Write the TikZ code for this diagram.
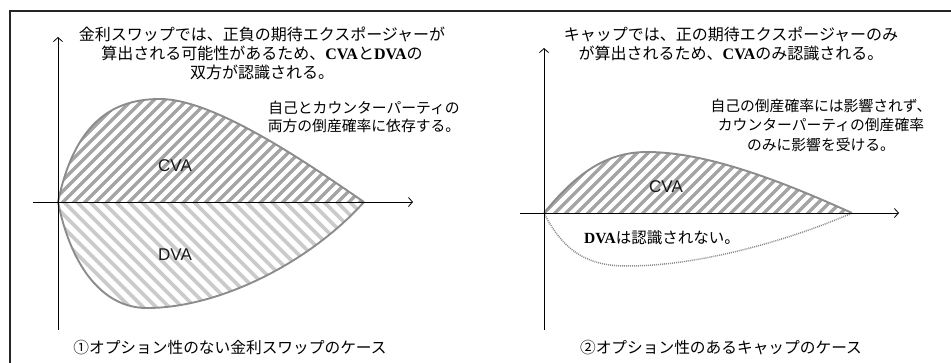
\documentclass[tikz,border=0pt]{standalone}
\usepackage{fontspec}
\newfontfamily\jp{Noto Sans CJK JP}
\newfontfamily\tms{Liberation Serif}
\newfontfamily\arl{Liberation Sans}
\usetikzlibrary{arrows.meta}
\newcommand{\bvs}[1]{{\tms\bfseries #1}}
\definecolor{curvegray}{HTML}{8C8C8C}
\definecolor{cvastripe}{HTML}{A4A4A4}
\definecolor{dvastripe}{HTML}{CBCBCB}
\tikzset{
  axis/.style={line width=0.9pt, black, -{Straight Barb[length=4pt,width=9pt,line width=0.8pt]}},
  frame/.style={line width=1.3pt, black!85},
  outline/.style={line width=1.9pt, curvegray},
  dotcurve/.style={line width=1.5pt, curvegray, dash pattern=on 1pt off 1pt},
  cvah/.style={line width=3.3pt, cvastripe},
  dvah/.style={line width=3.8pt, dvastripe},
  ttext/.style={font=\jp\fontsize{16}{19}\selectfont, align=center, inner sep=0pt, text=black},
  atext/.style={font=\jp\fontsize{14.8}{17.5}\selectfont, align=center, inner sep=0pt, text=black},
  btext/.style={font=\jp\fontsize{14.8}{19.5}\selectfont, align=center, inner sep=0pt, text=black},
  ctext/.style={font=\jp\fontsize{15.7}{19}\selectfont, inner sep=0pt, text=black},
  lbl/.style={font=\arl\fontsize{17}{20}\selectfont, inner sep=0pt, text=black!90},
}
\begin{document}
\begin{tikzpicture}[x=1pt,y=-1pt]
\useasboundingbox (0,0) rectangle (951,362);
% frame
\coordinate (fTL) at (10,11);
\coordinate (fTR) at (960,11);
\coordinate (fBL) at (10,372);
\draw[frame] (fBL) -- (fTL) -- (fTR);

% ---------- left panel ----------
\coordinate (lO) at (58,202);
\coordinate (lE) at (364,202);
\begin{scope}
  \clip (lO) .. controls (75,120) and (115,99) .. (160,99) .. controls (215,99) and (310,165) .. (lE) -- cycle;
  \foreach \c in {100,111,...,700} \draw[cvah] (\c,0) -- ++(-400,400);
\end{scope}
\begin{scope}
  \clip (lO) .. controls (70,262) and (100,308) .. (147,308) .. controls (220,308) and (310,262) .. (lE) -- cycle;
  \foreach \c in {-320,-307,...,220} \draw[dvah] (\c,0) -- ++(450,450);
\end{scope}
\draw[outline] (lO) .. controls (75,120) and (115,99) .. (160,99) .. controls (215,99) and (310,165) .. (lE);
\draw[outline] (lO) .. controls (70,262) and (100,308) .. (147,308) .. controls (220,308) and (310,262) .. (lE);

\coordinate (lYb) at (58,330);
\coordinate (lYt) at (58,37);
\coordinate (lXl) at (33,202);
\coordinate (lXr) at (413,202);
\draw[axis] (lYb) -- (lYt);
\draw[axis] (lXl) -- (lXr);

\node[ttext] (ltop) at (262,53.5) {金利スワップでは、正負の期待エクスポージャーが\\算出される可能性があるため、\bvs{CVA}と\bvs{DVA}の\\双方が認識される。};
\node[atext] (lann) at (364,117) {自己とカウンターパーティの\\両方の倒産確率に依存する。};
\node[lbl] (lcva) at (175,166) {CVA};
\node[lbl] (ldva) at (175,255) {DVA};
\node[ctext] (lcap) at (230,348) {①オプション性のない金利スワップのケース};

% ---------- right panel ----------
\coordinate (rO) at (544,213);
\coordinate (rE) at (852,213);
\begin{scope}
  \clip (rO) .. controls (575,175) and (605,152) .. (647,152) .. controls (710,152) and (790,185) .. (rE) -- cycle;
  \foreach \c in {680,691,...,1080} \draw[cvah] (\c,0) -- ++(-400,400);
\end{scope}
\draw[outline] (rO) .. controls (575,175) and (605,152) .. (647,152) .. controls (710,152) and (790,185) .. (rE);
\draw[dotcurve] (rO) .. controls (565,255) and (592,266) .. (627,266) .. controls (700,266) and (790,240) .. (rE);

\coordinate (rYb) at (544,330);
\coordinate (rYt) at (544,48);
\coordinate (rXl) at (520,213);
\coordinate (rXr) at (899,213);
\draw[axis] (rYb) -- (rYt);
\draw[axis] (rXl) -- (rXr);

\node[ttext] (rtop) at (731,44) {キャップでは、正の期待エクスポージャーのみ\\が算出されるため、\bvs{CVA}のみ認識される。};
\node[btext] (rann) at (821,125) {自己の倒産確率には影響されず、\\カウンターパーティの倒産確率\\のみに影響を受ける。};
\node[lbl] (rcva) at (666,187) {CVA};
\node[ctext, font=\jp\fontsize{15.5}{19}\selectfont] (rdva) at (662,238) {\bvs{DVA}は認識されない。};
\node[ctext] (rcap) at (721,348) {②オプション性のあるキャップのケース};
\end{tikzpicture}
\end{document}
